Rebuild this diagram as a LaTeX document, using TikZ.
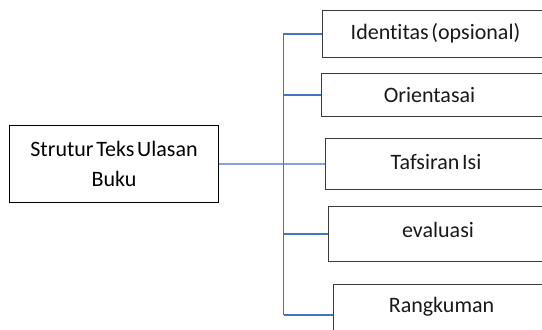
\documentclass[tikz,border=0pt]{standalone}
\usepackage{fontspec}
\setmainfont[Ligatures=NoCommon,WordSpace={0.55,0.3,0.3}]{Carlito}
\definecolor{linkblue}{HTML}{4472C4}
\definecolor{boxgray}{HTML}{3A3A3A}
\begin{document}
\begin{tikzpicture}[x=1bp,y=-1bp,
  font=\fontsize{22bp}{30bp}\selectfont,
  box/.style={draw=boxgray,line width=1bp,fill=white,inner sep=0pt,anchor=north west,minimum width=#1},
  box/.default=240bp,
  lbl/.style={inner sep=0pt,anchor=center,text=black!90},
  link/.style={draw=linkblue,line width=1.1bp}]
\useasboundingbox (0,0) rectangle (542,329);
\clip (0,0) rectangle (542,329);
% left box
\node[box=209bp,draw=black,minimum height=77bp,align=center] (root) at (9,125) {Strutur Teks Ulasan\\Buku};
% right boxes
\node[box,minimum height=47bp] (b1) at (322,10) {};
\node[box,minimum height=43bp] (b2) at (321,73) {};
\node[box,minimum height=51bp] (b3) at (325,138) {};
\node[box,minimum height=55bp] (b4) at (328,206) {};
\node[box,minimum height=61bp] (b5) at (333,284) {};
\node[lbl] (t1) at (435.5,33) {Identitas (opsional)};
\node[lbl] (t2) at (429.5,95) {Orientasai};
\node[lbl] (t3) at (436,162) {Tafsiran Isi};
\node[lbl] (t4) at (438,230) {evaluasi};
\node[lbl] (t5) at (441.5,307) {Rangkuman};
% connectors
\coordinate (top) at (283.5,33);
\coordinate (bot) at (283.5,315);
\draw[link] (top) -- (bot);
\draw[link] (root.east) -- (b3.west);
\draw[link] (top |- b1.west) -- (b1.west);
\draw[link] (top |- b2.west) -- (b2.west);
\draw[link] (top |- b4.west) -- (b4.west);
\draw[link] (top |- b5.west) -- (b5.west);
\end{tikzpicture}
\end{document}
